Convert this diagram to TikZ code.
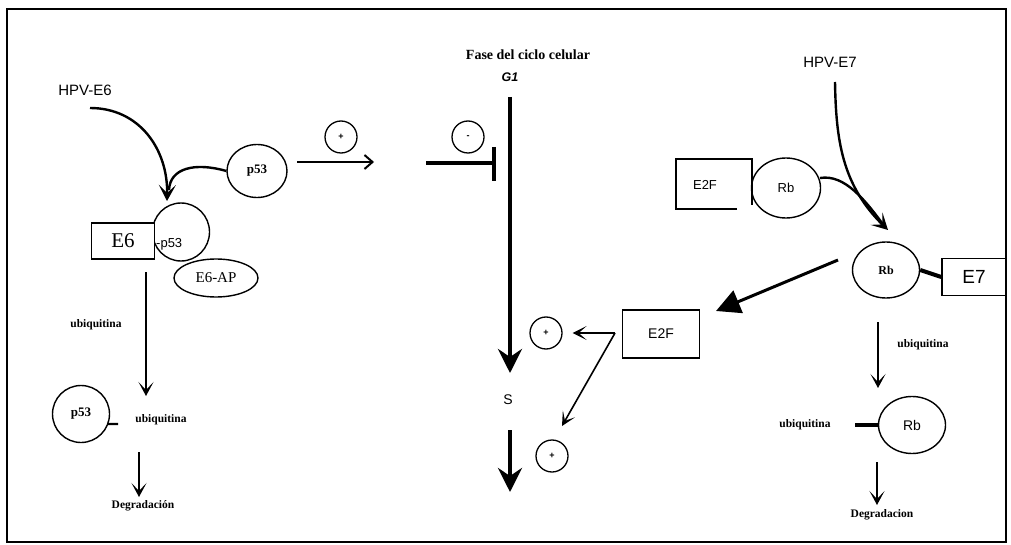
\documentclass[tikz,border=0pt]{standalone}
\usepackage{fontspec}
\setmainfont{Liberation Serif}
\setsansfont{Liberation Sans}
\usetikzlibrary{arrows.meta,shapes.geometric}

\tikzset{
  blob/.style={draw, ellipse, line width=1.4pt, inner sep=0pt},
  boxed/.style={draw, rectangle, line width=1.4pt, fill=white, inner sep=0pt},
  sgn/.style={draw, circle, line width=1.3pt, minimum size=32pt, inner sep=0pt,
              font=\sffamily\bfseries\fontsize{9}{9}\selectfont},
  lbl/.style={font=\bfseries\fontsize{11.5}{12}\selectfont},
  sanslbl/.style={font=\sffamily\fontsize{14}{14}\selectfont},
  flow/.style={line width=1.5pt, -{Stealth[length=14pt,width=15pt,inset=8pt]}},
  curved/.style={line width=2.4pt},
  heavy/.style={line width=4pt, -{Stealth[length=24pt,width=24pt,inset=8pt]}},
}

\begin{document}
\begin{tikzpicture}[x=1pt,y=-1pt]
\useasboundingbox (0,0) rectangle (1011,545);
% frame
\draw[line width=2.4pt] (7,9) rectangle (1006,542);

% ---------------- E6 / p53 branch ----------------
\node[font=\sffamily\fontsize{15}{15}\selectfont] (hpve6) at (85,90) {HPV-E6};
\coordinate (hpve6s) at (90,108);
\coordinate (joinA) at (167,201);

\node[blob, minimum width=60pt, minimum height=53pt,
      font=\bfseries\fontsize{13}{13}\selectfont] (p53a) at (257,171) {p53};

\node[blob, minimum width=57pt, minimum height=58pt] (p53b) at (181,232) {};
\node[font=\sffamily\fontsize{13}{13}\selectfont, anchor=west, inner sep=0pt] (p53bt) at (156,244) {-p53};
\node[boxed, minimum width=63pt, minimum height=36pt,
      font=\fontsize{21}{21}\selectfont] (e6) at (123,241) {E6};
\node[blob, fill=white, minimum width=84pt, minimum height=38pt,
      font=\fontsize{15}{15}\selectfont] (e6ap) at (216,278) {E6-AP};

\draw[curved, -{Stealth[length=16pt,width=17pt,inset=8pt]}]
  (hpve6s) .. controls (140,108) and (168,150) .. (joinA);
\draw[curved] (p53a.west) .. controls (195,162) and (170,168) .. (169,190);

\coordinate (actS) at (297,162);
\coordinate (actE) at (374,162);
\draw[line width=2pt, -{Straight Barb[length=8pt,width=14pt,line width=2pt]}] (actS) -- (actE);
\node[sgn] (plusA) at (341,137) {+};

\node[sgn] (minusA) at (468,137) {-};
\coordinate (inhS) at (426,163);
\coordinate (inhE) at (494,163);
\coordinate (barT) at (494,147);
\coordinate (barB) at (494,181);
\draw[line width=4.5pt] (inhS) -- (inhE);
\draw[line width=4.5pt] (barT) -- (barB);

\coordinate (ubS) at (146,272);
\coordinate (ubE) at (146,396);
\draw[flow] (ubS) -- (ubE);
\node[lbl] (ubA) at (96,325) {ubiquitina};

\node[blob, minimum width=57pt, minimum height=57pt,
      font=\bfseries\fontsize{13}{13}\selectfont] (p53c) at (81,414) {p53};
\coordinate (tickA) at (118,424);
\draw[line width=2.4pt] ([xshift=-1pt]p53c.-20) -- (tickA);
\node[lbl] (ubB) at (161,420) {ubiquitina};

\coordinate (degS) at (139,452);
\coordinate (degE) at (139,497);
\draw[flow] (degS) -- (degE);
\node[lbl] (degA) at (143,506) {Degradación};

% ---------------- cell cycle axis ----------------
\node[font=\bfseries\fontsize{14}{14}\selectfont] (fase) at (528,55) {Fase del ciclo celular};
\node[font=\sffamily\bfseries\itshape\fontsize{12.5}{12.5}\selectfont] (g1) at (510,77) {G1};
\node[sanslbl] (s) at (508,400) {S};
\coordinate (g1S) at (510,97);
\coordinate (sTop) at (510,373);
\coordinate (sBot) at (510,430);
\coordinate (sEnd) at (510,492);
\draw[heavy] (g1S) -- (sTop);
\draw[heavy] (sBot) -- (sEnd);

\node[sgn] (plusB) at (546,333) {+};
\node[sgn] (plusC) at (552,456) {+};

\node[boxed, minimum width=77pt, minimum height=48pt, sanslbl] (e2fb) at (661,334) {E2F};
\coordinate (fork) at (615,333);
\coordinate (forkE) at (562,426);
\draw[line width=1.6pt, -{Stealth[length=14pt,width=14pt,inset=8pt]}]
  (fork) -- ([xshift=10pt]plusB.east);
\draw[line width=1.6pt, -{Stealth[length=14pt,width=14pt,inset=8pt]}]
  (fork) -- (forkE);

% ---------------- E7 / Rb branch ----------------
\node[font=\sffamily\fontsize{15}{15}\selectfont] (hpve7) at (830,62) {HPV-E7};
\coordinate (hpve7s) at (835,82);
\coordinate (joinB) at (888,230);
\draw[curved, -{Stealth[length=16pt,width=17pt,inset=8pt]}]
  (hpve7s) .. controls (836,140) and (842,185) .. (joinB);

\node[font=\sffamily\fontsize{13}{13}\selectfont] (e2fa) at (705,185) {E2F};
\draw[line width=1.4pt] (737,209) -- (676,209) -- (676,159) -- (752,159) -- (752,205);
\node[blob, minimum width=69pt, minimum height=60pt,
      font=\sffamily\fontsize{13}{13}\selectfont] (rba) at (786,188) {Rb};
\draw[curved] (820,178) .. controls (845,174) and (865,200) .. (885,227);

\node[blob, minimum width=67pt, minimum height=56pt,
      font=\bfseries\fontsize{12}{12}\selectfont] (rbb) at (886,270) {Rb};
\node[boxed, minimum width=64pt, minimum height=37pt,
      font=\sffamily\fontsize{19}{19}\selectfont] (e7) at (974,277) {E7};
\draw[line width=4pt] (rbb.east) -- (e7.west);

\coordinate (relS) at (838,260);
\coordinate (relE) at (716,311);
\draw[line width=3pt, -{Triangle[length=24pt,width=24pt]}] (relS) -- (relE);

\coordinate (ubC0) at (878,322);
\coordinate (ubC1) at (878,388);
\draw[flow] (ubC0) -- (ubC1);
\node[lbl] (ubC) at (923,345) {ubiquitina};

\node[blob, minimum width=67pt, minimum height=57pt,
      font=\sffamily\fontsize{14}{14}\selectfont] (rbc) at (912,425) {Rb};
\node[lbl] (ubD) at (805,425) {ubiquitina};
\coordinate (tickB) at (855,425);
\draw[line width=4pt] (tickB) -- (rbc.west);

\coordinate (degC0) at (877,462);
\coordinate (degC1) at (877,505);
\draw[flow] (degC0) -- (degC1);
\node[lbl] (degB) at (882,515) {Degradacion};
\end{tikzpicture}
\end{document}
